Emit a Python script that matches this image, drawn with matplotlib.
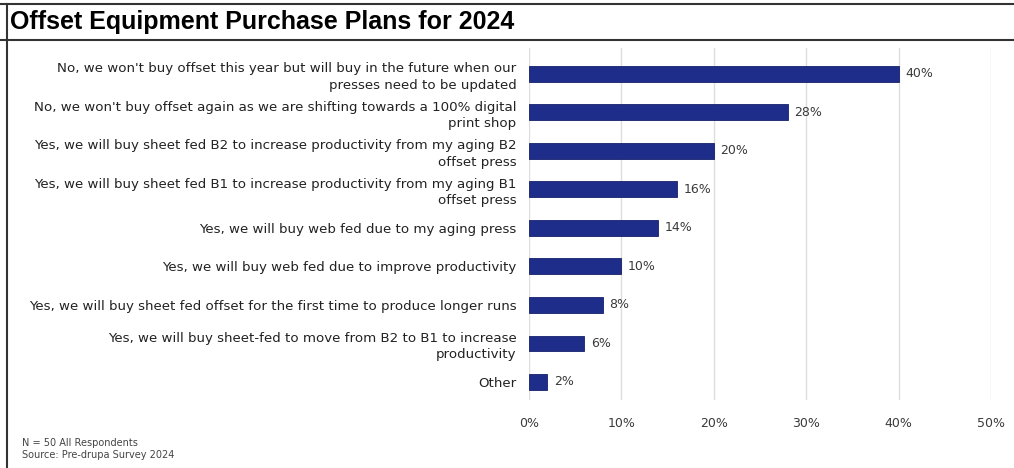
import matplotlib.pyplot as plt
from matplotlib.lines import Line2D

categories = [
    "No, we won't buy offset this year but will buy in the future when our\npresses need to be updated",
    "No, we won't buy offset again as we are shifting towards a 100% digital\nprint shop",
    "Yes, we will buy sheet fed B2 to increase productivity from my aging B2\noffset press",
    "Yes, we will buy sheet fed B1 to increase productivity from my aging B1\noffset press",
    "Yes, we will buy web fed due to my aging press",
    "Yes, we will buy web fed due to improve productivity",
    "Yes, we will buy sheet fed offset for the first time to produce longer runs",
    "Yes, we will buy sheet-fed to move from B2 to B1 to increase\nproductivity",
    "Other",
]
values = [40, 28, 20, 16, 14, 10, 8, 6, 2]
xticks = [0, 10, 20, 30, 40, 50]

bar_color = "#1f2d8a"
text_color = "#3a3a3a"
font = "DejaVu Sans"

fig = plt.figure(figsize=(10.14, 4.68), dpi=100)
ax = fig.add_axes([0.5217, 0.1453, 0.4556, 0.7520])

y = list(range(len(categories)))
ax.barh(y, values, height=0.41, color=bar_color, edgecolor="#15206a", linewidth=0.6, zorder=3)
for yi, v in zip(y, values):
    ax.text(v + 0.7, yi, f"{v}%", va="center", ha="left", fontsize=9,
            color=text_color, family=font)

ax.set_xlim(0, 50)
ax.set_ylim(8.47, -0.67)
ax.set_xticks(xticks)
ax.set_xticklabels([f"{t}%" for t in xticks], fontsize=9, color=text_color, family=font)
ax.set_yticks(y)
ax.set_yticklabels(categories, fontsize=9.6, color="#222222", family=font,
                   multialignment="right", linespacing=1.35)
ax.tick_params(axis="both", length=0)
ax.tick_params(axis="y", pad=9)
ax.tick_params(axis="x", pad=12)
ax.grid(axis="x", color="#dddddd", linewidth=1, zorder=0)
for s in ax.spines.values():
    s.set_visible(False)

# frame and title band
fig.add_artist(Line2D([0, 1], [1 - 4 / 468] * 2, color="#333333", lw=1.5))
fig.add_artist(Line2D([0, 1], [1 - 40 / 468] * 2, color="#333333", lw=1.5))
fig.add_artist(Line2D([7 / 1014] * 2, [0, 1 - 4 / 468], color="#333333", lw=1.5))

fig.text(10 / 1014, 1 - 22 / 468, "Offset Equipment Purchase Plans for 2024",
         fontsize=18, fontweight="bold", family="Liberation Sans",
         va="center", ha="left")

fig.text(22 / 1014, 1 - 443 / 468, "N = 50 All Respondents", fontsize=7,
         color="#444444", family=font, va="center")
fig.text(22 / 1014, 1 - 455 / 468, "Source: Pre-drupa Survey 2024", fontsize=7,
         color="#444444", family=font, va="center")

fig.savefig("out.png", dpi=100)
